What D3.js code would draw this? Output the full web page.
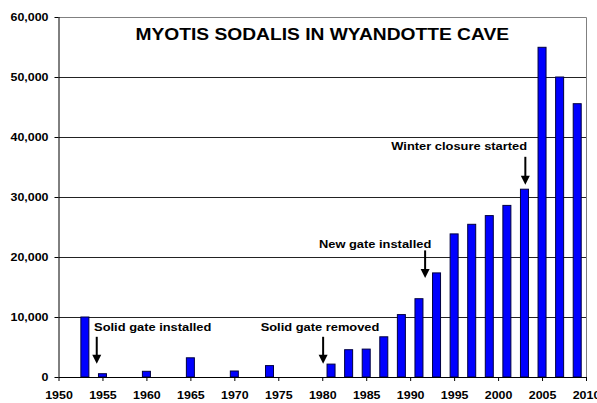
<!DOCTYPE html>
<html>
<head>
<meta charset="utf-8">
<script src="https://cdn.jsdelivr.net/npm/d3@7"></script>
<style>
  body { margin: 0; background: #fff; }
  text { font-family: "Liberation Sans", Arial, sans-serif; font-weight: bold; }
</style>
</head>
<body>
<div id="chart"></div>
<script>
// bat counts by survey year
var years  = [1953, 1955, 1960, 1965, 1970, 1974, 1981, 1983, 1985, 1987, 1989, 1991, 1993, 1995, 1997, 1999, 2001, 2003, 2005, 2007, 2009];
var counts = [10000, 550, 950, 3200, 1000, 1900, 2150, 4550, 4650, 6700, 10400, 13050, 17350, 23850, 25450, 26900, 28600, 31300, 54950, 50000, 45550];
var xTicks = [1950, 1955, 1960, 1965, 1970, 1975, 1980, 1985, 1990, 1995, 2000, 2005, 2010];
var yTicks = [0, 10000, 20000, 30000, 40000, 50000, 60000];

// annotations: arrow year, arrow top/tip values, text year + anchor, text baseline value
var annoLabels  = ["Solid gate installed", "Solid gate removed", "New gate installed", "Winter closure started"];
var annoYears   = [1954.35, 1980.1, 1991.7, 2003.1];
var annoTops    = [6700, 6700, 21100, 36700];
var annoTips    = [2200, 2200, 16500, 32050];
var annoTextYrs = [1954.05, 1979.75, 1992.4, 2003.3];
var annoAnchors = ["start", "middle", "end", "end"];
var annoTextVal = [7630, 7630, 21550, 37770];

var w = 597, h = 403;
var p = {"top": 17, "right": 11, "left": 58.5, "bottom": 26};

// the original chart is a bit wider than tall, text looks stretched
function stretch(sel, k) {
  sel.each(function(){
    var l = this.getComputedTextLength();
    d3.select(this).attr("textLength", l * k).attr("lengthAdjust", "spacingAndGlyphs");
  })
}

var svg = d3.select("#chart").append("svg")
  .attr("width", w)
  .attr("height", h)

var x = d3.scaleLinear().domain([1950, 2010]).range([p.left, w - p.right]);
var y = d3.scaleLinear().domain([0, 60000]).range([h - p.bottom, p.top]);

// gridlines
svg.selectAll("line.grid")
  .data(yTicks.filter(function(d){ return d > 0 && d < 60000 }))
  .enter().append("line")
    .attr("class", "grid")
    .attr("x1", p.left).attr("x2", w - p.right)
    .attr("y1", function(d){ return Math.round(y(d)) + 0.5 })
    .attr("y2", function(d){ return Math.round(y(d)) + 0.5 })
    .attr("stroke", "#222")

// frame top and right
svg.append("path")
  .attr("d", "M" + p.left + "," + (p.top + 0.5) + "H" + (w - p.right + 0.5) + "V" + (h - p.bottom))
  .attr("fill", "none")
  .attr("stroke", "#808080")

// bars
var bw = 8;
svg.selectAll("rect.bar")
  .data(years)
  .enter().append("rect")
    .attr("class", "bar")
    .attr("x", function(d){ return x(d) - bw / 2 })
    .attr("y", function(d, i){ return y(counts[i]) })
    .attr("width", bw)
    .attr("height", function(d, i){ return y(0) - y(counts[i]) })
    .attr("fill", "#0000ff")
    .attr("stroke", "#000040")
    .attr("stroke-width", 1)

// axes
var xAxis = d3.axisBottom(x).tickValues(xTicks).tickFormat(d3.format("d")).tickSize(4).tickPadding(10);
var yAxis = d3.axisLeft(y).tickValues(yTicks).tickFormat(d3.format(",")).tickSize(4).tickPadding(6);

svg.append("g")
  .attr("transform", "translate(0," + Math.round(y(0)) + ")")
  .call(xAxis)
  .call(function(g){ g.select(".domain").attr("d", "M" + p.left + ",0.5H" + (w - p.right)) })
  .selectAll("text")
    .attr("font-size", 11.5).attr("font-weight", "bold").attr("fill", "#000")
    .attr("font-family", "Liberation Sans, Arial, sans-serif")
    .call(stretch, 1.08);

svg.append("g")
  .attr("transform", "translate(" + p.left + ",0)")
  .call(yAxis)
  .call(function(g){ g.select(".domain").attr("d", "M0.5," + p.top + "V" + y(0)) })
  .selectAll("text")
    .attr("font-size", 11.5).attr("font-weight", "bold").attr("fill", "#000")
    .attr("font-family", "Liberation Sans, Arial, sans-serif")
    .call(stretch, 1.08);

// title
svg.append("text")
  .attr("x", (p.left + w - p.right) / 2)
  .attr("y", 40)
  .attr("text-anchor", "middle")
  .attr("font-size", 17)
  .text("MYOTIS SODALIS IN WYANDOTTE CAVE")
  .call(stretch, 1.13)

// annotations
var anno = svg.selectAll("g.anno")
  .data(annoLabels)
  .enter().append("g")
    .attr("class", "anno")

anno.append("text")
  .attr("x", function(d, i){ return x(annoTextYrs[i]) })
  .attr("y", function(d, i){ return y(annoTextVal[i]) })
  .attr("text-anchor", function(d, i){ return annoAnchors[i] })
  .attr("font-size", 11)
  .text(function(d){ return d })
  .call(stretch, 1.17)

anno.append("line")
  .attr("x1", function(d, i){ return x(annoYears[i]) })
  .attr("x2", function(d, i){ return x(annoYears[i]) })
  .attr("y1", function(d, i){ return y(annoTops[i]) })
  .attr("y2", function(d, i){ return y(annoTips[i]) - 6 })
  .attr("stroke", "#000")
  .attr("stroke-width", 2)

anno.append("path")
  .attr("d", function(d, i){
    var ax = x(annoYears[i]), ay = y(annoTips[i]);
    return "M" + ax + "," + ay + "L" + (ax - 4.5) + "," + (ay - 9) + "L" + (ax + 4.5) + "," + (ay - 9) + "Z";
  })
  .attr("fill", "#000")
</script>
</body>
</html>
